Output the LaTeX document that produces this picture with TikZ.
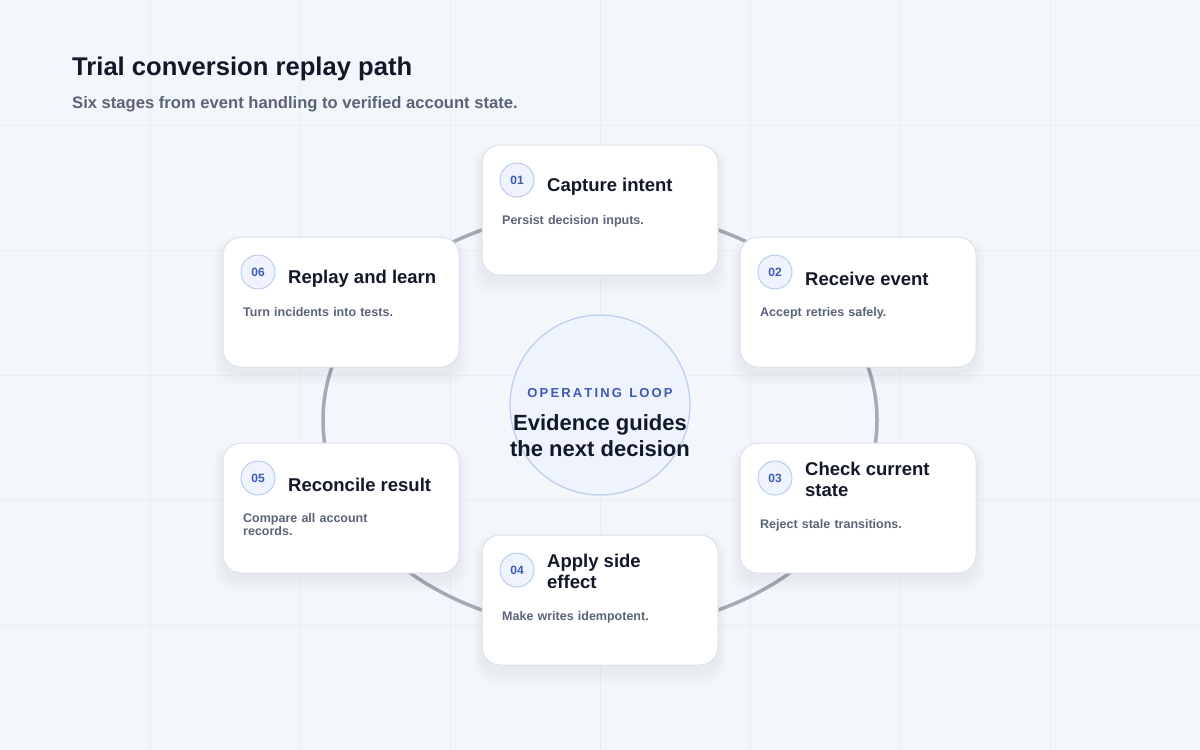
\documentclass[tikz,border=0pt]{standalone}
\usepackage{fontspec}
\setmainfont{Liberation Sans}
\usetikzlibrary{calc}
\definecolor{bg}{HTML}{F3F6FB}
\definecolor{grid}{HTML}{EAEEF5}
\definecolor{ink}{HTML}{111827}
\definecolor{muted}{HTML}{5A6478}
\definecolor{accent}{HTML}{3A5BB5}
\definecolor{ring}{HTML}{A5ABB6}
\definecolor{cardline}{HTML}{DCE2EC}
\definecolor{numfill}{HTML}{EEF3FD}
\definecolor{numline}{HTML}{B9CDEE}
\begin{document}
\begin{tikzpicture}[x=1pt,y=-1pt,
  card/.style={draw=cardline,line width=1pt,fill=white,rounded corners=18pt},
  num/.style={circle,draw=numline,line width=1pt,fill=numfill,minimum size=34pt,inner sep=0pt,font=\bfseries\fontsize{12}{12}\selectfont,text=accent},
  ttl/.style={anchor=west,font=\bfseries\fontsize{18.5}{21}\selectfont,text=ink,align=left,inner sep=0pt},
  dsc/.style={anchor=north west,font=\bfseries\fontsize{12.5}{13}\selectfont,text=muted,align=left,inner sep=0pt,text width=180pt}]
\fill[bg] (0,0) rectangle (1200,750);
\useasboundingbox (0,0) rectangle (1200,750);
\foreach \x in {150,300,...,1050} \draw[grid,line width=0.6pt] (\x,0) -- (\x,750);
\foreach \y in {125,250,375,500,625} \draw[grid,line width=0.6pt] (0,\y) -- (1200,\y);
\node[anchor=west,inner sep=0pt,font=\bfseries\fontsize{25.6}{28}\selectfont,text=ink] (title) at (72,69) {Trial conversion replay path};
\node[anchor=west,inner sep=0pt,font=\bfseries\fontsize{16.6}{18}\selectfont,text=muted] (sub) at (72,104) {Six stages from event handling to verified account state.};
\draw[ring,line width=3.5pt] (600,420) ellipse [x radius=277, y radius=210];
\node[circle,draw=numline,line width=1.2pt,fill=numfill,minimum size=180pt,inner sep=0pt] (hub) at (600,405) {};
\node[font=\bfseries\fontsize{13}{13}\selectfont,text=accent] (op) at (600,393) {O\,P\,E\,R\,A\,T\,I\,N\,G\ \ L\,O\,O\,P};
\node[font=\bfseries\fontsize{22}{26}\selectfont,text=ink,align=center] (ev) at (600,436) {Evidence guides\\the next decision};
\foreach \cx/\cy/\n/\t/\d/\off in {
  482/145/01/{Capture intent}/{Persist decision inputs.}/0,
  740/237/02/{Receive event}/{Accept retries safely.}/0,
  740/443/03/{Check current\\state}/{Reject stale transitions.}/1,
  482/535/04/{Apply side\\effect}/{Make writes idempotent.}/1,
  223/443/05/{Reconcile result}/{Compare all account\\records.}/0,
  223/237/06/{Replay and learn}/{Turn incidents into tests.}/0}{
  \foreach \k in {1,...,6} \fill[black,opacity=0.009,rounded corners=20pt] (\cx-\k*1.5,\cy+4-\k*0.5) rectangle (\cx+236+\k*1.5,\cy+136+\k*2);
  \draw[card] (\cx,\cy) rectangle (\cx+236,\cy+130);
  \node[num] (n\n) at (\cx+35,\cy+35) {\n};
  \node[ttl] (t\n) at (\cx+65,\cy+42-\off*6) {\t};
  \node[dsc] (d\n) at (\cx+20,\cy+70+\off*6) {\d};
}
\end{tikzpicture}
\end{document}
